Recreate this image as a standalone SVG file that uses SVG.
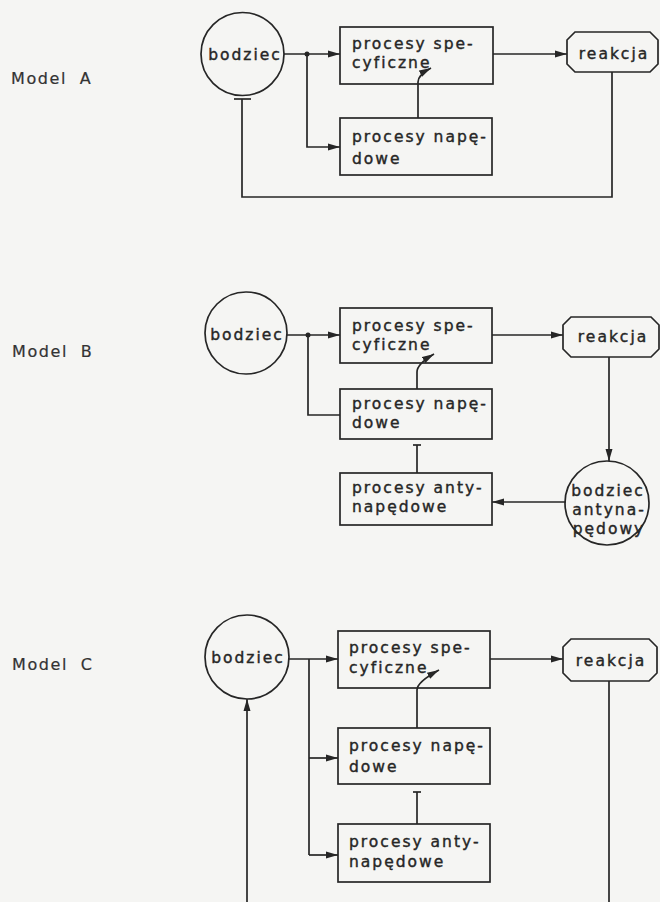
<svg xmlns="http://www.w3.org/2000/svg" width="660" height="902" viewBox="0 0 660 902">
<defs>
<marker id="ah" markerUnits="userSpaceOnUse" markerWidth="13" markerHeight="8" refX="12" refY="4" orient="auto"><path d="M0,0.5 L12,4 L0,7.5 z" fill="#262626"/></marker>
<style>
.ln{fill:none;stroke:#262626;stroke-width:1.7}
.bx{fill:none;stroke:#262626;stroke-width:1.7}
.t{font-family:"DejaVu Sans",sans-serif;font-size:15.5px;letter-spacing:2px;fill:#262626;stroke:#262626;stroke-width:0.4}
.m{font-family:"DejaVu Sans",sans-serif;font-size:16px;letter-spacing:1.6px;word-spacing:6px;fill:#333;stroke:#333;stroke-width:0.2}
.c{text-anchor:middle}
</style>
</defs>
<rect width="660" height="902" fill="#f5f5f3"/>
<text class="m" x="11" y="84">Model A</text>
<text class="m" x="12" y="357">Model B</text>
<text class="m" x="12" y="670">Model C</text>

<g id="connectors">
<path class="ln" d="M284,54 H340" marker-end="url(#ah)"/>
<circle cx="307" cy="54" r="2.5" fill="#262626"/>
<path class="ln" d="M307,54 V147 H340" marker-end="url(#ah)"/>
<path class="ln" d="M493,54 H567" marker-end="url(#ah)"/>
<path class="ln" d="M418,118 V82 Q418,75 431,68" marker-end="url(#ah)"/>
<path class="ln" d="M612,72 V197 H242 V99"/>
<path class="ln" d="M234,99 H251"/>

<path class="ln" d="M287,335 H340" marker-end="url(#ah)"/>
<circle cx="308" cy="335" r="2.5" fill="#262626"/>
<path class="ln" d="M308,335 V415 H340"/>
<path class="ln" d="M492,335 H563" marker-end="url(#ah)"/>
<path class="ln" d="M417,389 V372 Q417,364 434,354" marker-end="url(#ah)"/>
<path class="ln" d="M609,357 V461" marker-end="url(#ah)"/>
<path class="ln" d="M566,502 H492" marker-end="url(#ah)"/>
<path class="ln" d="M417,473 V445"/>
<path class="ln" d="M413,445 H421"/>

<path class="ln" d="M289,659 H338" marker-end="url(#ah)"/>
<path class="ln" d="M309,659 V855"/>
<path class="ln" d="M309,758 H338" marker-end="url(#ah)"/>
<path class="ln" d="M309,855 H338" marker-end="url(#ah)"/>
<path class="ln" d="M490,659 H563" marker-end="url(#ah)"/>
<path class="ln" d="M417,728 V690 Q417,682 439,670" marker-end="url(#ah)"/>
<path class="ln" d="M417,824 V792"/>
<path class="ln" d="M413,792 H421"/>
<path class="ln" d="M609,681 V902"/>
<path class="ln" d="M247,902 V699" marker-end="url(#ah)"/>
</g>

<g id="A-bodziec"><circle class="bx" cx="242.5" cy="54" r="41.5"/><text class="t c" x="245" y="60">bodziec</text></g>
<g id="A-spec"><rect class="bx" x="340" y="27" width="153" height="57"/><text class="t" x="352" y="49">procesy spe-</text><text class="t" x="352" y="68">cyficzne</text></g>
<g id="A-nap"><rect class="bx" x="340" y="118" width="152" height="57"/><text class="t" x="352" y="142">procesy napę-</text><text class="t" x="352" y="164">dowe</text></g>
<g id="A-reakcja"><polygon class="bx" points="575,32 650,32 658,40 658,64 650,72 575,72 567,64 567,40"/><text class="t c" x="614" y="59">reakcja</text></g>

<g id="B-bodziec"><circle class="bx" cx="246" cy="333" r="41"/><text class="t c" x="247" y="340">bodziec</text></g>
<g id="B-spec"><rect class="bx" x="340" y="308" width="152" height="55"/><text class="t" x="352" y="331">procesy spe-</text><text class="t" x="352" y="350">cyficzne</text></g>
<g id="B-nap"><rect class="bx" x="340" y="389" width="152" height="50"/><text class="t" x="352" y="409">procesy napę-</text><text class="t" x="352" y="428">dowe</text></g>
<g id="B-anty"><rect class="bx" x="340" y="473" width="152" height="52"/><text class="t" x="352" y="493">procesy anty-</text><text class="t" x="352" y="512">napędowe</text></g>
<g id="B-reakcja"><polygon class="bx" points="571,317 651,317 659,325 659,349 651,357 571,357 563,349 563,325"/><text class="t c" x="613" y="342">reakcja</text></g>
<g id="B-bodziec-anty"><circle class="bx" cx="607" cy="503" r="42"/><text class="t c" x="608" y="496">bodziec</text><text class="t c" x="609" y="515">antyna-</text><text class="t c" x="609" y="534">pędowy</text></g>

<g id="C-bodziec"><circle class="bx" cx="247" cy="657" r="42"/><text class="t c" x="248" y="663">bodziec</text></g>
<g id="C-spec"><rect class="bx" x="338" y="631" width="152" height="57"/><text class="t" x="349" y="653">procesy spe-</text><text class="t" x="349" y="673">cyficzne</text></g>
<g id="C-nap"><rect class="bx" x="338" y="728" width="152" height="56"/><text class="t" x="349" y="751">procesy napę-</text><text class="t" x="349" y="772">dowe</text></g>
<g id="C-anty"><rect class="bx" x="338" y="824" width="152" height="58"/><text class="t" x="349" y="847">procesy anty-</text><text class="t" x="349" y="867">napędowe</text></g>
<g id="C-reakcja"><polygon class="bx" points="571,639 649,639 657,647 657,673 649,681 571,681 563,673 563,647"/><text class="t c" x="611" y="666">reakcja</text></g>
</svg>
